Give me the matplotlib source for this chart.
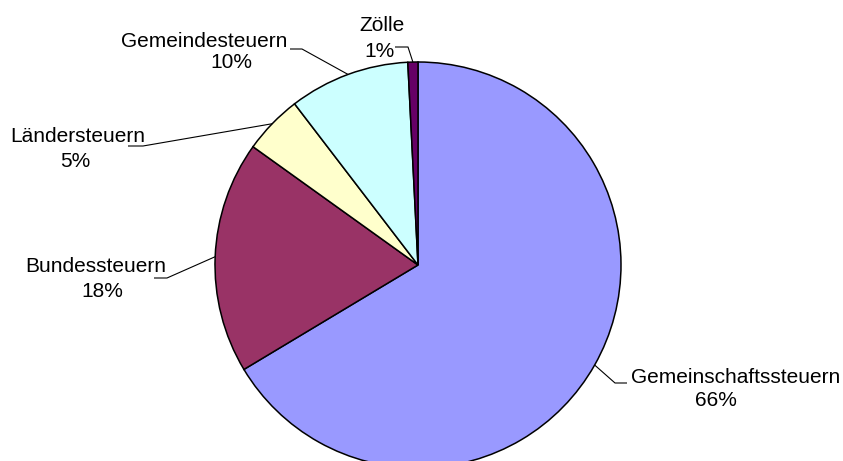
import numpy as np
import matplotlib
matplotlib.use("Agg")
import matplotlib.pyplot as plt

# Steuereinnahmen nach Steuerart (Anteile in %)
labels = ["Gemeinschaftssteuern", "Bundessteuern", "Ländersteuern", "Gemeindesteuern", "Zölle"]
shares = [66.4, 18.5, 4.7, 9.6, 0.8]
colors = ["#9999FF", "#993366", "#FFFFCC", "#CCFFFF", "#660066"]

W, H = 843, 461
plt.rcParams['font.family'] = ['Liberation Sans', 'DejaVu Sans']

fig = plt.figure(figsize=(W/100, H/100), dpi=100)
ax = fig.add_axes([0, 0, 1, 1])

cx, cy, r = 418, H - 265, 203
wedges, _ = ax.pie(shares, colors=colors, startangle=90, counterclock=False,
                   center=(cx, cy), radius=r, frame=True,
                   wedgeprops=dict(edgecolor="black", linewidth=1.1))
ax.set_xlim(0, W)
ax.set_ylim(0, H)
ax.set_aspect("equal")
ax.axis("off")

# label layout in pixels (y from top): name pos, name align, pct pos, kink, line end
layout = [
    ((631, 383), "left",   (716, 406), (615, 383), (627, 383)),
    ((96, 272),  "center", (102, 297), (167, 278), (154, 278)),
    ((78, 142),  "center", (75, 167),  (143, 146), (128, 146)),
    ((204, 47),  "center", (231, 68),  (302, 49),  (290, 49)),
    ((382, 31),  "center", (379, 57),  (408, 47),  (395, 47)),
]

for w, name, val, (npos, nha, ppos, kink, end) in zip(wedges, labels, shares, layout):
    mid = np.deg2rad((w.theta1 + w.theta2) / 2)
    sx, sy = cx + r*np.cos(mid), cy + r*np.sin(mid)
    ax.plot([sx, kink[0], end[0]], [sy, H - kink[1], H - end[1]],
            color="black", linewidth=0.8, solid_capstyle="butt")
    ax.text(npos[0], H - npos[1], name, ha=nha, va="baseline", fontsize=15)
    ax.text(ppos[0], H - ppos[1], "%.0f%%" % val, ha="center", va="baseline", fontsize=15)

plt.savefig("out.png", dpi=100)
